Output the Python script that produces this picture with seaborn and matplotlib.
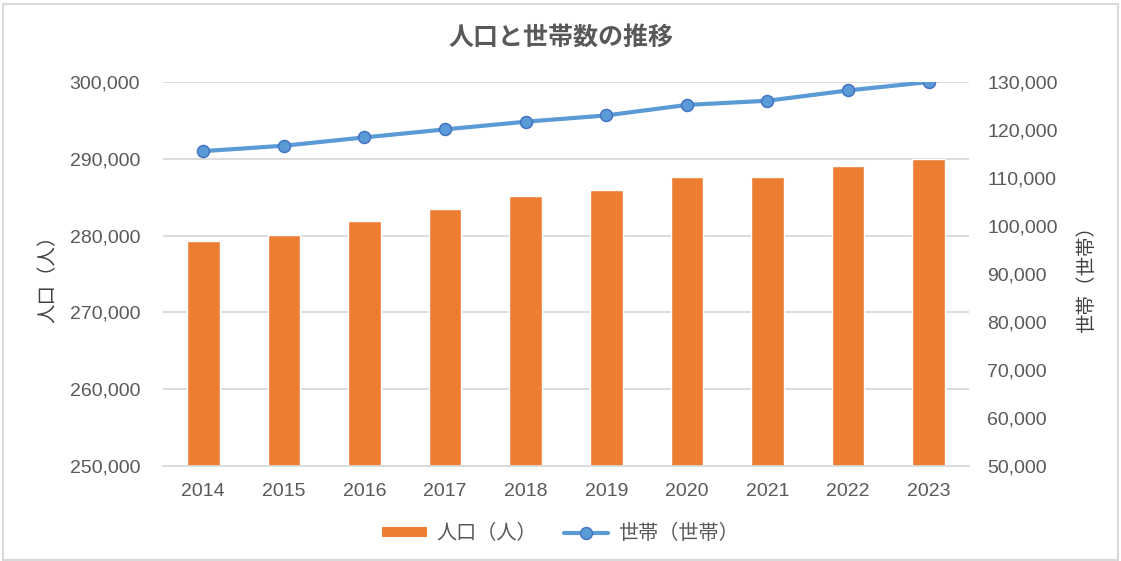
import numpy as np
import pandas as pd
import matplotlib.pyplot as plt
import matplotlib.ticker as mticker
from matplotlib.patches import Rectangle, Patch
from matplotlib.lines import Line2D
import seaborn as sns

# data
years = ['2014', '2015', '2016', '2017', '2018', '2019', '2020', '2021', '2022', '2023']
population = [279270, 280050, 281960, 283480, 285120, 285920, 287690, 287690, 289050, 290000]
households = [115600, 116730, 118460, 120130, 121730, 123040, 125230, 126100, 128250, 130000]

title = '人口と世帯数の推移'
pop_label = '人口（人）'
hh_label = '世帯（世帯）'

bar_color = '#ED7D31'
line_color = '#5B9BD5'
edge_color = '#4472C4'
text_color = '#595959'
grid_color = '#D9D9D9'

df = pd.DataFrame({'year': years, 'population': population, 'households': households})

sns.set_style('white')
# Latin digits in Liberation Sans, Japanese falls back to Noto Sans CJK JP
plt.rcParams['font.family'] = ['Liberation Sans', 'Noto Sans CJK JP', 'DejaVu Sans']

fig = plt.figure(figsize=(11.21, 5.61), dpi=100)
ax = fig.add_axes([0.1454, 0.1693, 0.719, 0.6845])

sns.barplot(data=df, x='year', y='population', color=bar_color, saturation=1,
            width=0.405, ax=ax, zorder=2)
ax.set_ylim(250000, 300000)
ax.set_yticks(range(250000, 300001, 10000))
ax.yaxis.set_major_formatter(mticker.StrMethodFormatter('{x:,.0f}'))
ax.set_xticks(np.arange(len(years) + 1) - 0.5, minor=True)
ax.grid(axis='y', color=grid_color, linewidth=1.3, zorder=0)
ax.set_axisbelow(True)
for s in ['top', 'left', 'right']:
    ax.spines[s].set_visible(False)
ax.spines['bottom'].set_color(grid_color)
ax.spines['bottom'].set_linewidth(1.3)
ax.tick_params(axis='y', length=0, pad=16.5, labelsize=14, labelcolor=text_color)
ax.tick_params(axis='x', which='major', length=0, pad=12.5, labelsize=14, labelcolor=text_color)
ax.tick_params(axis='x', which='minor', length=4, width=1.2, color=grid_color, direction='out')
ax.set_xlim(-0.5, len(years) - 0.5)
ax.set_xlabel('')
ax.set_ylabel(pop_label, fontsize=14, color='#404040', labelpad=9)

ax2 = ax.twinx()
sns.lineplot(data=df, x='year', y='households', color=line_color, linewidth=3.0,
             marker='o', markersize=8.6, markerfacecolor=line_color,
             markeredgecolor=edge_color, markeredgewidth=1.1, ax=ax2, zorder=3)
ax2.set_ylim(50000, 130000)
ax2.set_yticks(range(50000, 130001, 10000))
ax2.yaxis.set_major_formatter(mticker.StrMethodFormatter('{x:,.0f}'))
for s in ['top', 'left', 'right', 'bottom']:
    ax2.spines[s].set_visible(False)
ax2.tick_params(axis='y', length=0, pad=13, labelsize=14, labelcolor=text_color)
ax2.set_ylabel(hh_label, fontsize=14, color='#404040', rotation=90, labelpad=14)
ax2.grid(False)

fig.suptitle(title, x=0.5, y=0.932, va='center', fontsize=18, fontweight='bold',
             color=text_color)

handles = [Patch(facecolor=bar_color, edgecolor='none'),
           Line2D([0], [0], color=line_color, linewidth=3.0, marker='o', markersize=8.6,
                  markerfacecolor=line_color, markeredgecolor=edge_color)]
fig.legend(handles, [pop_label, hh_label], loc='center', bbox_to_anchor=(0.5, 0.049),
           ncol=2, frameon=False, fontsize=14.5, handlelength=2.2, handleheight=0.45,
           handletextpad=0.5, columnspacing=1.3, labelcolor=text_color)

# outer chart frame
fig.patches.append(Rectangle((0.003, 0.002), 0.994, 0.99, transform=fig.transFigure,
                             fill=False, edgecolor=grid_color, linewidth=1.5))

fig.savefig('out.png', dpi=100)
